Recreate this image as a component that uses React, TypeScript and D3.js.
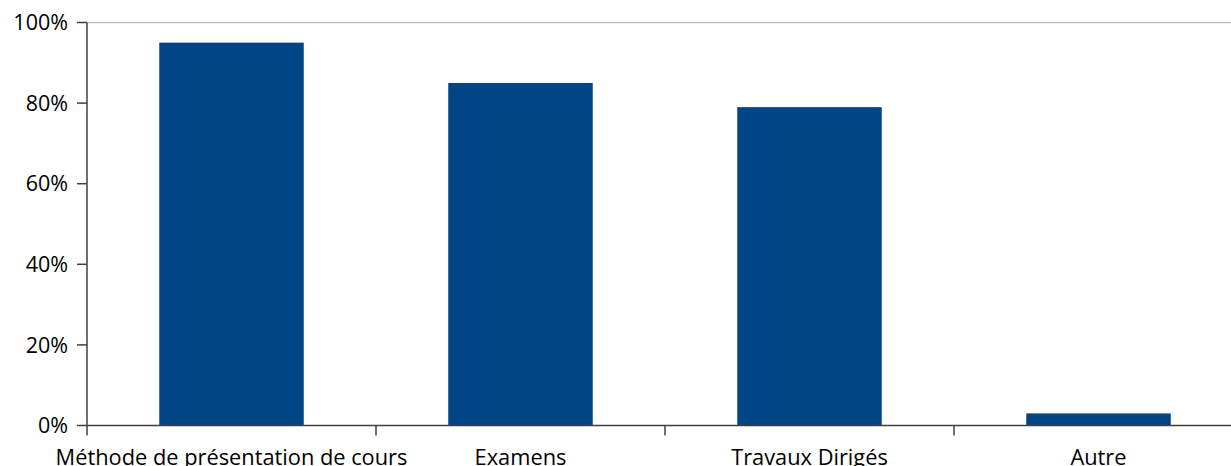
import React from "react";
import * as d3 from "d3";

const categories = ["Méthode de présentation de cours", "Examens", "Travaux Dirigés", "Autre"];
const values = [0.95, 0.85, 0.79, 0.03];
const yTicks = [0, 0.2, 0.4, 0.6, 0.8, 1.0];

const W = 1231;
const H = 466;
const left = 87;
const step = 289;
const top = 22.5;
const bottom = 425.5;
const font = "'Open Sans', sans-serif";

export default function App() {
  const x = d3
    .scaleBand<string>()
    .domain(categories)
    .range([left, left + step * categories.length])
    .paddingInner(0.5)
    .paddingOuter(0.25);
  const y = d3.scaleLinear().domain([0, 1]).range([bottom, top]);
  const fmt = d3.format(".0%");

  const boundaries = d3.range(1, categories.length + 1).map((i) => left + i * step);

  return (
    <svg
      width={W}
      height={H}
      style={{ position: "absolute", left: 0, top: 0, display: "block" }}
    >
      <rect width={W} height={H} fill="#ffffff" />
      {/* top border of the plot area */}
      <line x1={left} x2={W} y1={y(1)} y2={y(1)} stroke="#c0c0c0" strokeWidth={1.5} />
      {categories.map((c, i) => (
        <rect
          key={c}
          x={x(c)}
          y={y(values[i])}
          width={x.bandwidth()}
          height={y(0) - y(values[i])}
          fill="#024586"
        />
      ))}
      {/* y axis */}
      <line x1={left} x2={left} y1={y(1)} y2={y(0)} stroke="#404040" strokeWidth={1.5} />
      {yTicks.map((t) => (
        <g key={t}>
          <line x1={left - 10} x2={left} y1={y(t)} y2={y(t)} stroke="#404040" strokeWidth={1.5} />
          <text
            x={left - 19}
            y={y(t)}
            dy="0.36em"
            textAnchor="end"
            fontFamily={font}
            fontSize={21.5}
            fill="#000"
          >
            {fmt(t)}
          </text>
        </g>
      ))}
      {/* x axis */}
      <line x1={left} x2={W} y1={y(0)} y2={y(0)} stroke="#404040" strokeWidth={1.5} />
      {[left, ...boundaries].map((bx) => (
        <line key={bx} x1={bx} x2={bx} y1={y(0)} y2={y(0) + 10} stroke="#404040" strokeWidth={1.5} />
      ))}
      {categories.map((c) => (
        <text
          key={c}
          x={(x(c) ?? 0) + x.bandwidth() / 2}
          y={465}
          textAnchor="middle"
          fontFamily={font}
          fontSize={21.8}
          fill="#000"
        >
          {c}
        </text>
      ))}
    </svg>
  );
}
